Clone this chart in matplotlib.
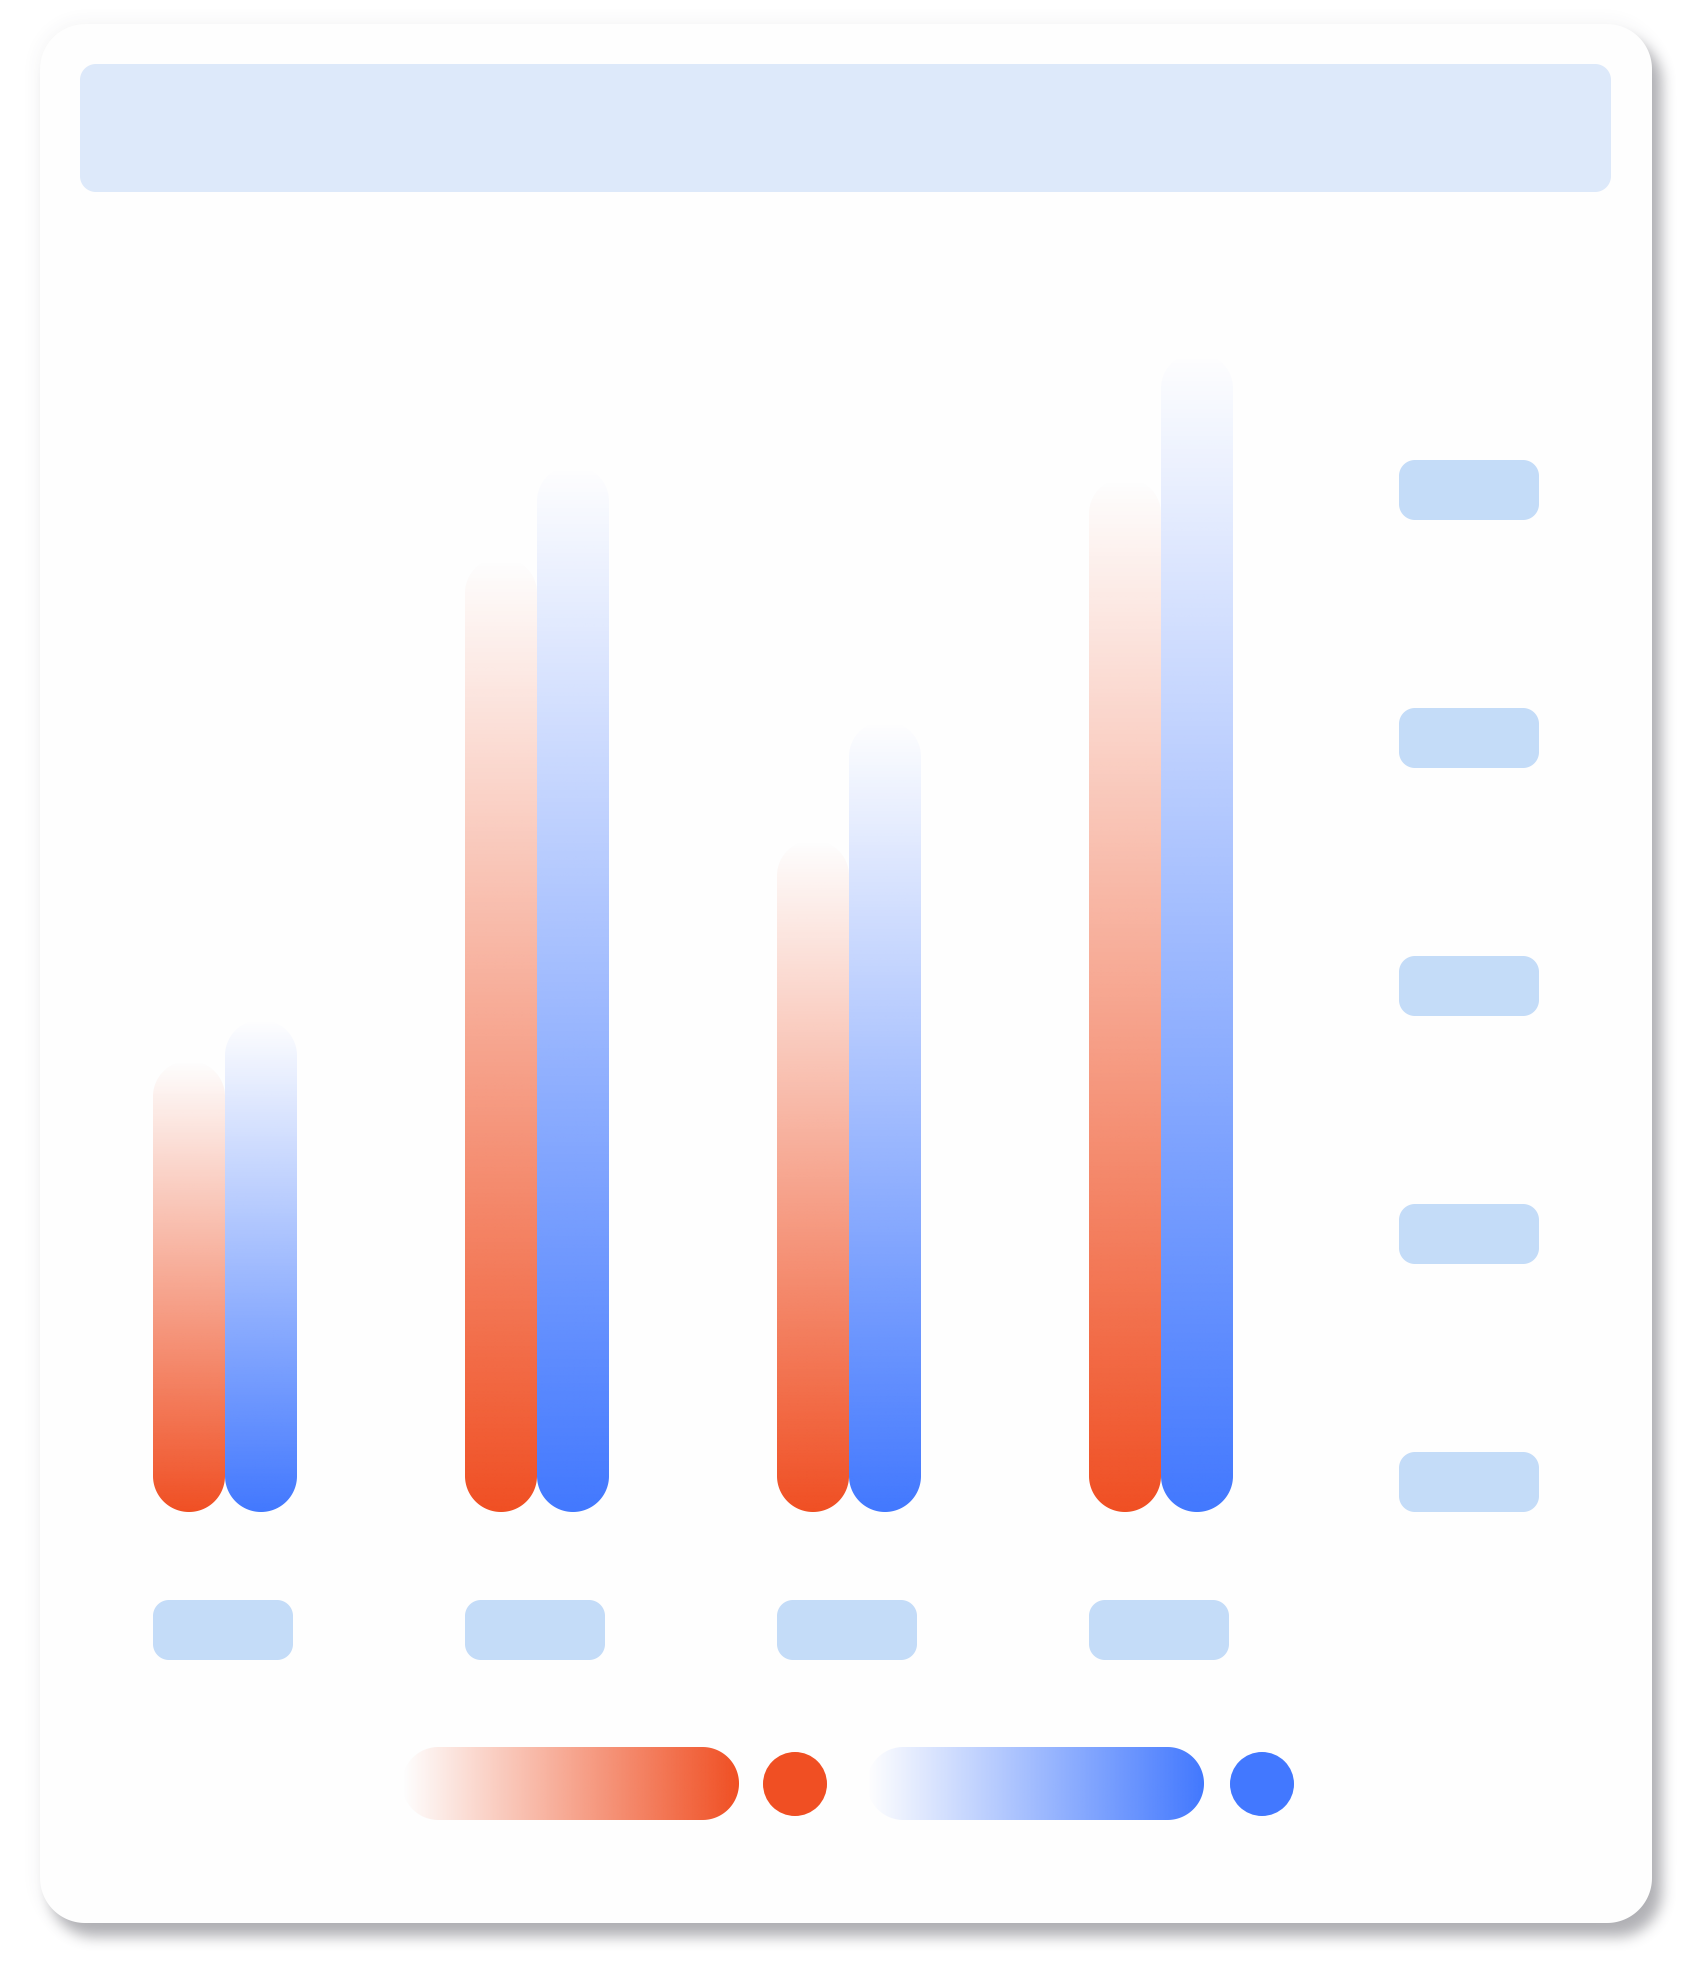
import numpy as np
import matplotlib
matplotlib.use('Agg')
import matplotlib.pyplot as plt
from matplotlib.patches import Polygon, Circle
from matplotlib.colors import to_rgb

# ---------------- data ----------------
categories = ['Q1', 'Q2', 'Q3', 'Q4']
series_names = ['Series A', 'Series B']
series1 = [36.4, 77.0, 54.2, 83.4]
series2 = [39.7, 84.4, 63.8, 93.5]
y_ticks = [0, 20, 40, 60, 80]

colors = ['#F04F23', '#4278FF']
title_color = '#DDE9FA'
label_color = '#C4DCF8'

W, H = 1692, 1980
DPI = 100
fig = plt.figure(figsize=(W / DPI, H / DPI), dpi=DPI)
fig.patch.set_facecolor('white')

bg = fig.add_axes([0, 0, 1, 1])
bg.set_xlim(0, W)
bg.set_ylim(H, 0)
bg.axis('off')


def rrect_pts(x0, y0, w, h, r, n=40):
    """Rounded rectangle outline (pixel coords, y downward) with circular arcs."""
    r = min(r, w / 2, h / 2)
    x1, y1 = x0 + w, y0 + h
    pts = []
    corners = [(x1 - r, y0 + r, -90, 0), (x1 - r, y1 - r, 0, 90),
               (x0 + r, y1 - r, 90, 180), (x0 + r, y0 + r, 180, 270)]
    for cx, cy, a0, a1 in corners:
        a = np.radians(np.linspace(a0, a1, n))
        pts.extend(zip(cx + r * np.cos(a), cy + r * np.sin(a)))
    return np.array(pts)


def rrect(x0, y0, w, h, r, **kw):
    return Polygon(rrect_pts(x0, y0, w, h, r), closed=True, **kw)


# ---------------- card + shadow ----------------
card = (40, 24, 1652, 1923)
card_r = 45


def rounded_mask(x0, y0, x1, y1, r):
    yy, xx = np.mgrid[0:H, 0:W].astype(np.float32) + 0.5
    cx = np.clip(xx, x0 + r, x1 - r)
    cy = np.clip(yy, y0 + r, y1 - r)
    d = np.hypot(xx - cx, yy - cy)
    return np.clip(r - d + 0.5, 0, 1)


def box_blur(a, r, passes=3):
    for _ in range(passes):
        for axis in (0, 1):
            pad = [(0, 0), (0, 0)]
            pad[axis] = (r + 1, r)
            p = np.pad(a, pad, mode='constant')
            c = np.cumsum(p, axis=axis)
            if axis == 0:
                a = (c[2 * r + 1:] - c[:-2 * r - 1]) / (2 * r + 1)
            else:
                a = (c[:, 2 * r + 1:] - c[:, :-2 * r - 1]) / (2 * r + 1)
    return a


ambient = box_blur(rounded_mask(*card, card_r), 9) * 0.07
drop = box_blur(rounded_mask(card[0] + 10, card[1] + 14, card[2] + 10, card[3] + 14, card_r), 6) * 0.42
alpha = 1 - (1 - ambient) * (1 - drop)
shadow = np.zeros((H, W, 4), dtype=np.float32)
shadow[..., 0] = 0.30
shadow[..., 1] = 0.30
shadow[..., 2] = 0.34
shadow[..., 3] = np.clip(alpha, 0, 1)
bg.imshow(shadow, extent=(0, W, H, 0), origin='upper', aspect='auto',
          interpolation='nearest', zorder=0)

bg.add_patch(rrect(card[0], card[1], card[2] - card[0], card[3] - card[1], card_r,
                   facecolor='#FEFEFE', edgecolor='none', zorder=1))

# title placeholder
bg.add_patch(rrect(80, 64, 1531, 128, 16, facecolor=title_color, edgecolor='none', zorder=2))

# ---------------- bar axes ----------------
ax_left, ax_right, ax_top, ax_bottom = 69, 1317, 272, 1512
ax = fig.add_axes([ax_left / W, (H - ax_bottom) / H,
                   (ax_right - ax_left) / W, (ax_bottom - ax_top) / H])
ax.set_xlim(-0.5, len(categories) - 0.5)
ax.set_ylim(0, 100)
ax.axis('off')
ax.patch.set_alpha(0)

x = np.arange(len(categories))
bw = 72 / 312
bars1 = ax.bar(x - bw / 2, series1, width=bw, color='none', edgecolor='none')
bars2 = ax.bar(x + bw / 2, series2, width=bw, color='none', edgecolor='none')

to_bg = bg.transData.inverted()


def data_to_bg(px, py):
    d = ax.transData.transform((px, py))
    return to_bg.transform(d)


N = 256
for bars, col in ((bars1, colors[0]), (bars2, colors[1])):
    rgb = to_rgb(col)
    grad = np.zeros((N, 1, 4))
    grad[..., 0], grad[..., 1], grad[..., 2] = rgb
    grad[:, 0, 3] = np.linspace(1, 0, N)  # row 0 = bottom (origin lower)
    for rect in bars:
        x0, y0 = rect.get_x(), rect.get_y()
        x1, y1 = x0 + rect.get_width(), y0 + rect.get_height()
        bx0, by_bottom = data_to_bg(x0, y0)
        bx1, by_top = data_to_bg(x1, y1)
        w = bx1 - bx0
        h = by_bottom - by_top
        clip = rrect(bx0, by_top, w, h, w / 2, transform=bg.transData,
                     facecolor='none', edgecolor='none')
        im = ax.imshow(grad, extent=(x0, x1, y0, y1), origin='lower', aspect='auto',
                       interpolation='bilinear', zorder=3)
        im.set_clip_path(clip)

ax.set_xlim(-0.5, len(categories) - 0.5)
ax.set_ylim(0, 100)

# y tick label placeholders (bottom-aligned to tick value)
for t in y_ticks:
    _, py = data_to_bg(0, t)
    bg.add_patch(rrect(1399, py - 60, 140, 60, 16,
                       facecolor=label_color, edgecolor='none', zorder=2))

# x tick label placeholders
for i in x:
    px, _ = data_to_bg(i - bw, 0)
    bg.add_patch(rrect(px, 1600, 140, 60, 16,
                       facecolor=label_color, edgecolor='none', zorder=2))

# ---------------- legend ----------------
legend_items = [(402, 795), (867, 1262)]
for (px0, dot_x), col, name in zip(legend_items, colors, series_names):
    rgb = to_rgb(col)
    g = np.zeros((1, N, 4))
    g[..., 0], g[..., 1], g[..., 2] = rgb
    g[0, :, 3] = np.linspace(0, 1, N)
    pw, ph = 337, 73
    clip = rrect(px0, 1747, pw, ph, ph / 2, transform=bg.transData,
                 facecolor='none', edgecolor='none')
    im = bg.imshow(g, extent=(px0, px0 + pw, 1747 + ph, 1747), origin='upper',
                   aspect='auto', interpolation='bilinear', zorder=3)
    im.set_clip_path(clip)
    bg.add_patch(Circle((dot_x, 1784), 32, facecolor=col, edgecolor='none',
                        zorder=3, label=name))

bg.set_xlim(0, W)
bg.set_ylim(H, 0)

fig.savefig('out.png', dpi=DPI, facecolor='white')
